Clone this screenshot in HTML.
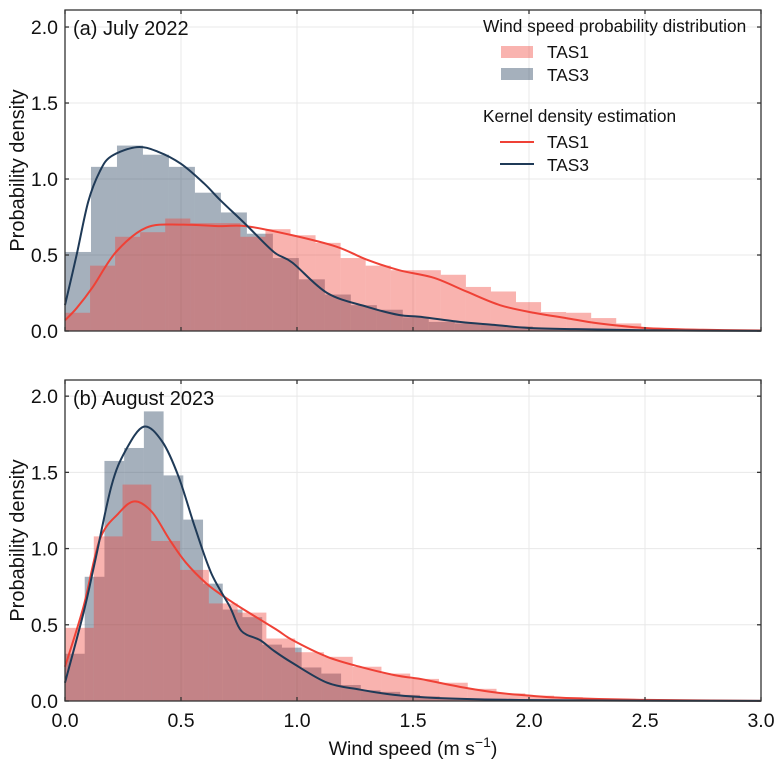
<!DOCTYPE html>
<html><head><meta charset="utf-8"><style>
body{margin:0;background:#fff;}
svg{display:block;font-family:"Liberation Sans",Arial,sans-serif;}
</style></head><body>
<svg id="chart" width="782" height="768" viewBox="0 0 782 768"></svg>
<script>
// ---- data ----
const xTicks = [0.0, 0.5, 1.0, 1.5, 2.0, 2.5, 3.0];
const yTicks = [0.0, 0.5, 1.0, 1.5, 2.0];
const panelLabels = ["(a) July 2022", "(b) August 2023"];
const julyTas1BinWidth = 0.108;
const julyTas1Hist = [0.12,0.43,0.62,0.65,0.74,0.71,0.71,0.62,0.67,0.63,0.58,0.48,0.43,0.40,0.40,0.37,0.29,0.26,0.19,0.125,0.12,0.085,0.05,0.02,0.01];
const julyTas3BinWidth = 0.112;
const julyTas3Hist = [0.52,1.08,1.22,1.16,1.08,0.91,0.78,0.64,0.48,0.34,0.24,0.17,0.14,0.09,0.06,0.05,0.04,0.03,0.02,0.015,0.01,0.008];
const augTas1BinWidth = 0.124;
const augTas1Hist = [0.48,1.08,1.42,1.05,0.86,0.64,0.58,0.41,0.32,0.29,0.225,0.18,0.145,0.12,0.08,0.05,0.035,0.025,0.015,0.01,0.006,0.004];
const augTas3BinWidth = 0.085;
const augTas3Hist = [0.31,0.815,1.575,1.66,1.90,1.48,1.19,0.77,0.60,0.55,0.37,0.35,0.22,0.18,0.105,0.07,0.06,0.04,0.03,0.02,0.015,0.01,0.008,0.005];
const julyTas1KdeX = [0,0.05,0.12,0.22,0.35,0.5,0.67,0.78,0.98,1.17,1.30,1.44,1.59,1.73,1.875,2.02,2.16,2.3,2.5,2.75,3.0];
const julyTas1KdeY = [0.07,0.15,0.29,0.52,0.68,0.70,0.69,0.69,0.63,0.555,0.47,0.40,0.35,0.26,0.17,0.12,0.085,0.05,0.02,0.008,0.003];
const julyTas3KdeX = [0,0.05,0.1,0.15,0.2,0.31,0.4,0.5,0.6,0.67,0.78,0.9,0.98,1.13,1.30,1.44,1.53,1.7,1.85,2.0,2.2,2.5,3.0];
const julyTas3KdeY = [0.17,0.5,0.85,1.05,1.15,1.21,1.18,1.10,0.97,0.86,0.70,0.52,0.45,0.25,0.16,0.105,0.094,0.06,0.04,0.02,0.012,0.005,0.001];
const augTas1KdeX = [0,0.08,0.15,0.23,0.30,0.375,0.45,0.52,0.61,0.69,0.76,0.91,0.98,1.13,1.27,1.42,1.53,1.59,1.73,1.87,2.02,2.16,2.5,3.0];
const augTas1KdeY = [0.225,0.62,1.06,1.23,1.31,1.24,1.06,0.91,0.77,0.68,0.61,0.47,0.40,0.29,0.225,0.17,0.145,0.127,0.085,0.053,0.033,0.02,0.007,0.001];
const augTas3KdeX = [0,0.08,0.13,0.2,0.26,0.34,0.42,0.49,0.56,0.63,0.71,0.76,0.84,0.9,0.98,1.13,1.27,1.42,1.6,1.9,2.3,3.0];
const augTas3KdeY = [0.12,0.58,0.92,1.41,1.64,1.80,1.70,1.47,1.14,0.84,0.62,0.46,0.40,0.33,0.25,0.12,0.075,0.04,0.02,0.008,0.003,0.001];

const NS = "http://www.w3.org/2000/svg";
const svg = document.getElementById("chart");
const X0 = 65, X1 = 761;
const panels = [{top:10,bottom:331,ymax:2.112},{top:380,bottom:701,ymax:2.106}];
const RED = "#ef4136", NAVY = "#1f3a57";
function el(tag, attrs, parent){const e=document.createElementNS(NS,tag);for(const k in attrs)e.setAttribute(k,attrs[k]);(parent||svg).appendChild(e);return e;}
function xs(v){return X0 + v/3.0*(X1-X0);}
function smoothPath(pts){
  let d = "M"+pts[0][0].toFixed(2)+","+pts[0][1].toFixed(2);
  for(let i=0;i<pts.length-1;i++){
    const p0=pts[Math.max(0,i-1)],p1=pts[i],p2=pts[i+1],p3=pts[Math.min(pts.length-1,i+2)];
    const c1x=p1[0]+(p2[0]-p0[0])/6,c1y=p1[1]+(p2[1]-p0[1])/6;
    const c2x=p2[0]-(p3[0]-p1[0])/6,c2y=p2[1]-(p3[1]-p1[1])/6;
    d+=" C"+c1x.toFixed(2)+","+c1y.toFixed(2)+" "+c2x.toFixed(2)+","+c2y.toFixed(2)+" "+p2[0].toFixed(2)+","+p2[1].toFixed(2);
  }
  return d;
}
const sets = [
  {t1w:julyTas1BinWidth,t1:julyTas1Hist,t3w:julyTas3BinWidth,t3:julyTas3Hist,k1x:julyTas1KdeX,k1y:julyTas1KdeY,k3x:julyTas3KdeX,k3y:julyTas3KdeY},
  {t1w:augTas1BinWidth,t1:augTas1Hist,t3w:augTas3BinWidth,t3:augTas3Hist,k1x:augTas1KdeX,k1y:augTas1KdeY,k3x:augTas3KdeX,k3y:augTas3KdeY}
];
panels.forEach((p,pi)=>{
  const ys = v => p.bottom - v/p.ymax*(p.bottom-p.top);
  const g = el("g",{});
  
  
  xTicks.forEach(t=>{const l=el("line",{x1:xs(t),x2:xs(t),y1:p.top,y2:p.bottom,stroke:"#e8e8e8","stroke-width":1},g);
    
    });
  yTicks.forEach(t=>{const l=el("line",{x1:X0,x2:X1,y1:ys(t),y2:ys(t),stroke:"#e8e8e8","stroke-width":1},g);
    
    });
  const s = sets[pi];
  s.t3.forEach((v,i)=>{const r=el("rect",{x:xs(i*s.t3w),y:ys(v),width:xs((i+1)*s.t3w)-xs(i*s.t3w),height:ys(0)-ys(v),fill:NAVY,"fill-opacity":0.4},g);
    
    });
  s.t1.forEach((v,i)=>{const r=el("rect",{x:xs(i*s.t1w),y:ys(v),width:xs((i+1)*s.t1w)-xs(i*s.t1w),height:ys(0)-ys(v),fill:RED,"fill-opacity":0.4},g);
    
    });
  const k1 = el("path",{d:smoothPath(s.k1x.map((x,i)=>[xs(x),ys(s.k1y[i])])),fill:"none",stroke:RED,"stroke-width":2},g);
  
  
  const k3 = el("path",{d:smoothPath(s.k3x.map((x,i)=>[xs(x),ys(s.k3y[i])])),fill:"none",stroke:NAVY,"stroke-width":2},g);
  
  
  const fr = el("rect",{x:X0,y:p.top,width:X1-X0,height:p.bottom-p.top,fill:"none",stroke:"#333","stroke-width":1.3},g);
  
  
  xTicks.forEach(t=>{
    el("line",{x1:xs(t),x2:xs(t),y1:p.bottom,y2:p.bottom-4,stroke:"#333","stroke-width":1.3},g);
    el("line",{x1:xs(t),x2:xs(t),y1:p.top,y2:p.top+4,stroke:"#333","stroke-width":1.3},g);
    if(pi===1){const tx=el("text",{x:xs(t),y:727,"text-anchor":"middle","font-size":19.5,fill:"#111"},g);tx.textContent=t.toFixed(1);
      
      }
  });
  yTicks.forEach(t=>{
    el("line",{x1:X0,x2:X0+4,y1:ys(t),y2:ys(t),stroke:"#333","stroke-width":1.3},g);
    el("line",{x1:X1,x2:X1-4,y1:ys(t),y2:ys(t),stroke:"#333","stroke-width":1.3},g);
    const tx=el("text",{x:58,y:ys(t)+7,"text-anchor":"end","font-size":19.5,fill:"#111"},g);tx.textContent=t.toFixed(1);
    
    
  });
  const yt = el("text",{x:0,y:0,transform:"translate(24,"+((p.top+p.bottom)/2)+") rotate(-90)","text-anchor":"middle","font-size":20,fill:"#111"},g);
  yt.textContent="Probability density";
  
  
  const pl = el("text",{x:73,y:p.top+25,"font-size":20,fill:"#111"},g);
  pl.textContent=panelLabels[pi];
  
  
});
const xt = el("text",{x:413,y:755,"text-anchor":"middle","font-size":19.5,fill:"#111"});
xt.innerHTML='Wind speed (m s<tspan dy="-8" font-size="14">−1</tspan><tspan dy="8">)</tspan>';


const lg = el("g",{});


function lt(x,y,s,name){const t=el("text",{x:x,y:y,"font-size":17.3,fill:"#111"},lg);t.textContent=s;
  
  return t;}
lt(483,32,"Wind speed probability distribution","legend-title-histogram");
const p1=el("rect",{x:501,y:46,width:32,height:12,fill:RED,"fill-opacity":0.4},lg);


lt(547,58,"TAS1","legend-entry-tas1-hist");
const p3=el("rect",{x:501,y:68,width:32,height:12,fill:NAVY,"fill-opacity":0.4},lg);


lt(547,81,"TAS3","legend-entry-tas3-hist");
lt(483,122,"Kernel density estimation","legend-title-kde");
const l1=el("line",{x1:500,x2:534,y1:142,y2:142,stroke:RED,"stroke-width":2},lg);


lt(547,148,"TAS1","legend-entry-tas1-kde");
const l3=el("line",{x1:500,x2:534,y1:164,y2:164,stroke:NAVY,"stroke-width":2},lg);


lt(547,171,"TAS3","legend-entry-tas3-kde");
</script>
</body></html>
